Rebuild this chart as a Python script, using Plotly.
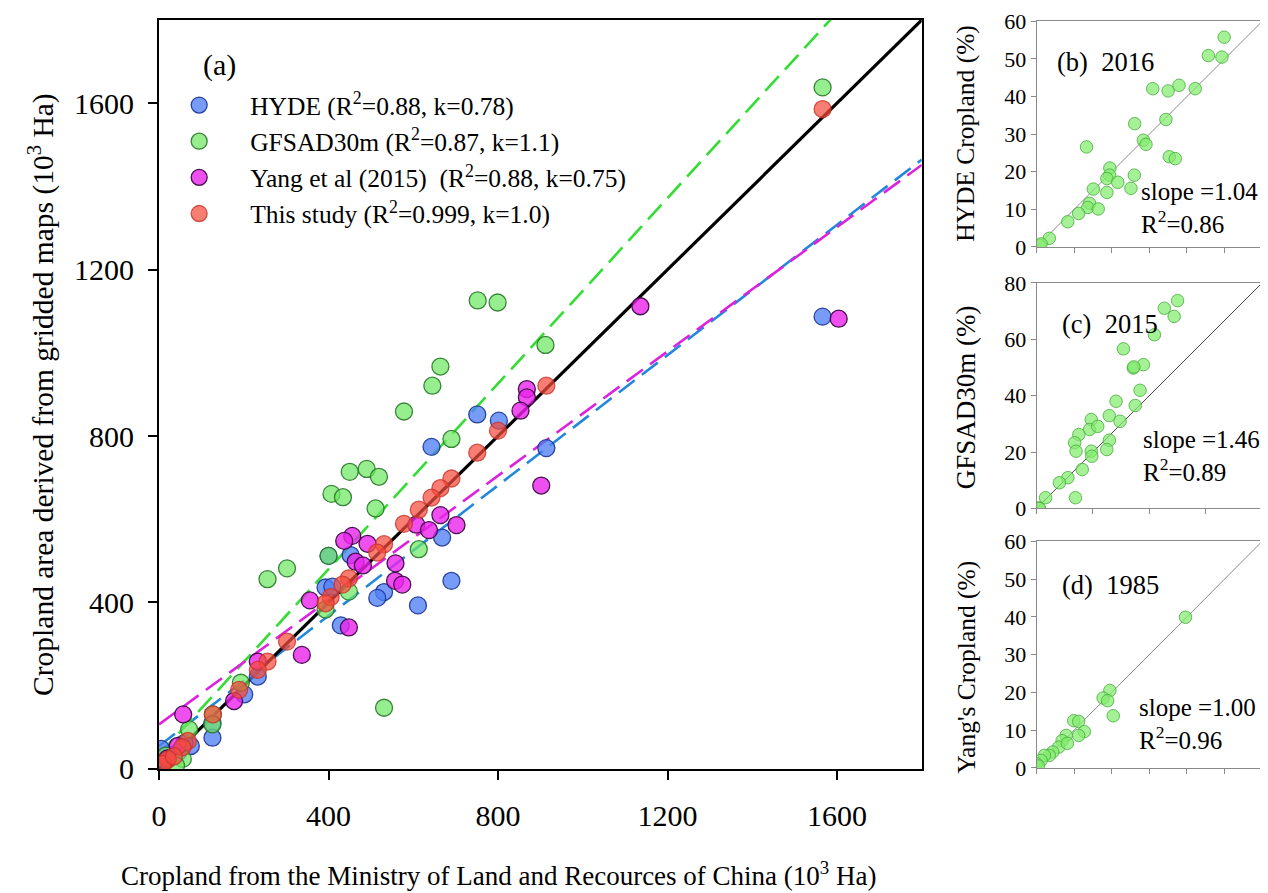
import plotly.graph_objects as go

W, H = 1268, 893

# ---------------- Panel (a) data (10^3 Ha) ----------------
hyde_x = [1566, 751, 802, 643, 914, 668, 452, 400, 690, 393, 409, 531, 515, 611, 429, 233, 201, 126, 126, 75, 45, 20, 5, 60, 15]
hyde_y = [1087, 852, 837, 774, 771, 556, 514, 512, 452, 436, 438, 425, 411, 393, 345, 222, 179, 110, 75, 55, 40, 35, 48, 62, 20]

gfsad_x = [1566, 752, 799, 912, 664, 645, 578, 690, 490, 450, 519, 407, 434, 511, 613, 400, 302, 256, 448, 393, 193, 531, 127, 126, 71, 16, 56, 40]
gfsad_y = [1638, 1126, 1121, 1019, 967, 921, 859, 793, 721, 714, 702, 661, 653, 626, 528, 512, 482, 456, 426, 383, 207, 147, 131, 107, 95, 32, 24, 8]

yang_x = [1604, 1136, 868, 868, 853, 902, 664, 702, 607, 637, 456, 437, 492, 464, 481, 558, 557, 574, 356, 448, 337, 233, 177, 57, 44, 20]
yang_y = [1082, 1112, 913, 893, 861, 681, 610, 586, 587, 574, 560, 548, 541, 498, 489, 494, 452, 443, 405, 340, 274, 258, 163, 131, 55, 25]

this_x = [1566, 914, 800, 751, 690, 664, 643, 613, 578, 531, 515, 448, 433, 405, 393, 302, 256, 233, 189, 127, 68, 55, 20, 9, 35]
this_y = [1586, 921, 813, 760, 698, 675, 652, 623, 589, 540, 520, 458, 443, 413, 398, 306, 258, 238, 190, 131, 67, 52, 22, 12, 30]

series_names = [
    "HYDE (R<sup>2</sup>=0.88, k=0.78)",
    "GFSAD30m (R<sup>2</sup>=0.87, k=1.1)",
    "Yang et al (2015)\u00a0 (R<sup>2</sup>=0.88, k=0.75)",
    "This study (R<sup>2</sup>=0.999, k=1.0)",
]
# fitted lines: intercept, slope
fit_intercept = [55, 34, 107, 0]
fit_slope = [0.783, 1.115, 0.747, 1.0]
line_x = [0, 1800]

# ---------------- Panels (b)-(d) data (%) ----------------
b_x = [49.9, 45.7, 49.3, 30.9, 35.0, 37.9, 42.2, 34.4, 26.1, 28.4, 29.1, 13.3, 35.3, 36.9, 19.5, 19.4, 18.7, 21.6, 26.0, 25.1, 15.1, 18.7, 14.1, 13.6, 16.4, 11.2, 8.3, 3.4, 0.8, 1.2]
b_y = [55.8, 50.9, 50.5, 42.1, 41.5, 43.0, 42.1, 33.9, 32.8, 28.4, 27.3, 26.6, 24.0, 23.5, 21.0, 19.1, 18.2, 17.2, 19.1, 15.6, 15.4, 14.5, 11.6, 10.5, 10.1, 8.9, 6.7, 2.3, 0.4, 0.8]

c_x = [50.0, 45.3, 48.8, 41.8, 30.8, 34.3, 37.9, 34.5, 36.7, 28.2, 35.0, 25.8, 29.6, 19.4, 18.8, 21.7, 15.0, 13.5, 25.8, 24.9, 14.0, 19.4, 19.6, 16.2, 11.1, 8.1, 3.2, 13.8, 0.8, 1.0]
c_y = [73.7, 71.0, 68.1, 61.6, 56.6, 49.8, 51.0, 50.2, 41.9, 38.0, 36.5, 32.9, 30.9, 31.5, 28.0, 29.1, 26.2, 23.3, 24.2, 20.9, 20.3, 20.3, 18.5, 13.8, 10.9, 9.1, 3.8, 3.8, 0.2, 0.0]

d_x = [39.6, 19.5, 17.7, 18.9, 20.4, 9.9, 11.2, 12.7, 11.2, 7.9, 6.8, 5.9, 4.3, 3.4, 2.1, 1.2, 0.0, 0.5, 8.2]
d_y = [39.9, 20.5, 18.5, 17.8, 13.8, 12.5, 12.3, 9.6, 8.6, 8.6, 7.2, 5.5, 4.2, 3.3, 3.3, 2.0, 1.1, 0.5, 6.5]

sub_labels = ["(b)\u00a0 2016", "(c)\u00a0 2015", "(d)\u00a0 1985"]
sub_slopes = ["1.04", "1.46", "1.00"]
sub_r2 = ["0.86", "0.89", "0.96"]

main_ticks = [0, 400, 800, 1200, 1600]
b_ticks = [0, 10, 20, 30, 40, 50, 60]
c_ticks = [0, 20, 40, 60, 80]
d_ticks = [0, 10, 20, 30, 40, 50, 60]

FONT = "Liberation Serif, Times New Roman, serif"

# map target-picture pixel positions to paper fractions (calibrated to the renderer)
def fx(p):
    return ((p - 14.7) / 0.9954) / W

def fy(p):
    v = 1 - ((p - 19.6) / 0.9706) / H
    return min(1.0, max(0.0, v))

fig = go.Figure()

fills = ["rgba(80,128,245,0.78)", "rgba(110,232,100,0.72)", "rgba(235,35,235,0.8)", "rgba(245,75,60,0.72)"]
edges = ["rgba(25,50,150,0.9)", "rgba(40,120,40,0.9)", "rgba(60,10,70,0.95)", "rgba(200,50,40,0.8)"]
line_cols = ["#2288dd", "#33dd33", "#dd22dd", "#000000"]

# regression lines first
for i in range(4):
    ly = [fit_intercept[i] + fit_slope[i] * v for v in line_x]
    fig.add_trace(go.Scatter(
        x=line_x, y=ly, mode="lines", showlegend=False, hoverinfo="skip",
        line=dict(color=line_cols[i], width=3.2 if i == 3 else 2.6,
                  dash="solid" if i == 3 else "20px,9px"),
        xaxis="x", yaxis="y"))

for i, (xs, ys) in enumerate([(hyde_x, hyde_y), (gfsad_x, gfsad_y), (yang_x, yang_y), (this_x, this_y)]):
    fig.add_trace(go.Scatter(
        x=xs, y=ys, mode="markers", name=series_names[i], legendgroup=str(i),
        marker=dict(size=17, color=fills[i], line=dict(color=edges[i], width=1.3)),
        xaxis="x", yaxis="y"))

sub_fill = "rgba(130,235,110,0.72)"
sub_edge = "rgba(70,170,60,0.8)"
for (xs, ys, ax, ay, mx, lc) in [(b_x, b_y, "x2", "y2", 60, "#888888"),
                                 (c_x, c_y, "x3", "y3", 80, "#444444"),
                                 (d_x, d_y, "x4", "y4", 60, "#888888")]:
    fig.add_trace(go.Scatter(x=[0, mx], y=[0, mx], mode="lines", showlegend=False,
                             line=dict(color=lc, width=1), xaxis=ax, yaxis=ay, hoverinfo="skip"))
    fig.add_trace(go.Scatter(x=xs, y=ys, mode="markers", showlegend=False,
                             marker=dict(size=12.5, color=sub_fill, line=dict(color=sub_edge, width=1)),
                             xaxis=ax, yaxis=ay))

main_axis = dict(showgrid=False, zeroline=False, showline=True, mirror=True, linecolor="black",
                 linewidth=2, ticks="outside", ticklen=9, tickwidth=2, tickcolor="black",
                 tickfont=dict(family=FONT, size=30, color="black"))
sub_axis = dict(showgrid=False, zeroline=False, showline=True, mirror=True, linecolor="#8a8a8a",
                linewidth=1, ticks="outside", ticklen=5, tickwidth=1, tickcolor="#8a8a8a",
                tickfont=dict(family=FONT, size=22, color="black"))

x_dom_sub = [fx(1037), fx(1263)]
fig.update_layout(
    width=W, height=H, autosize=False,
    margin=dict(l=0, r=0, t=0, b=0),
    paper_bgcolor="white", plot_bgcolor="white",
    font=dict(family=FONT, color="black"),
    xaxis=dict(domain=[fx(158), fx(922)], range=[0, 1800], tickvals=main_ticks, ticklabelstandoff=10, **main_axis),
    yaxis=dict(domain=[fy(770), fy(14)], range=[0, 1800], tickvals=main_ticks, ticklabelstandoff=8, **main_axis),
    xaxis2=dict(domain=x_dom_sub, range=[0, 60], tickvals=b_ticks, showticklabels=False, anchor="y2", **sub_axis),
    yaxis2=dict(domain=[fy(247), fy(21)], range=[0, 60], tickvals=b_ticks, anchor="x2", **sub_axis),
    xaxis3=dict(domain=x_dom_sub, range=[0, 80], tickvals=c_ticks, showticklabels=False, anchor="y3", **sub_axis),
    yaxis3=dict(domain=[fy(509), fy(283)], range=[0, 80], tickvals=c_ticks, anchor="x3", **sub_axis),
    xaxis4=dict(domain=x_dom_sub, range=[0, 60], tickvals=d_ticks, showticklabels=False, anchor="y4", **sub_axis),
    yaxis4=dict(domain=[fy(769), fy(542)], range=[0, 60], tickvals=d_ticks, anchor="x4", **sub_axis),
    legend=dict(x=133 / W, y=1 - 64 / H, xanchor="left", yanchor="top", bgcolor="rgba(0,0,0,0)",
                font=dict(family=FONT, size=25.5, color="black"), itemwidth=92,
                tracegroupgap=0, traceorder="grouped"),
    showlegend=True,
)

ann = []
def add_text(text, x, y, size, xanchor="left", angle=0):
    ann.append(dict(text=text, x=fx(x), y=fy(y), xref="paper", yref="paper", showarrow=False,
                    xanchor=xanchor, yanchor="middle", textangle=angle, align="left",
                    font=dict(family=FONT, size=size, color="black")))

add_text("(a)", 200, 65, 30)
add_text("Cropland from the Ministry of Land and Recources of China (10<sup>3</sup> Ha)", 499, 875, 27, "center")
add_text("Cropland area derived from gridded maps (10<sup>3</sup> Ha)", 40, 395, 29.5, "center", -90)

label_pos = [(1055, 62), (1060, 324), (1060, 586)]
stat_pos = [(1140, 208), (1142, 456), (1138, 725)]
for k in range(3):
    add_text(sub_labels[k], label_pos[k][0], label_pos[k][1], 26.5)
    add_text("slope =" + sub_slopes[k] + "<br>R<sup>2</sup>=" + sub_r2[k], stat_pos[k][0], stat_pos[k][1], 25)

add_text("HYDE Cropland (%)", 966, 133, 25.5, "center", -90)
add_text("GFSAD30m (%)", 966, 398, 27, "center", -90)
add_text("Yang's Cropland (%)", 966, 668, 25.5, "center", -90)

fig.update_layout(annotations=ann)
fig.write_html("out.html")
